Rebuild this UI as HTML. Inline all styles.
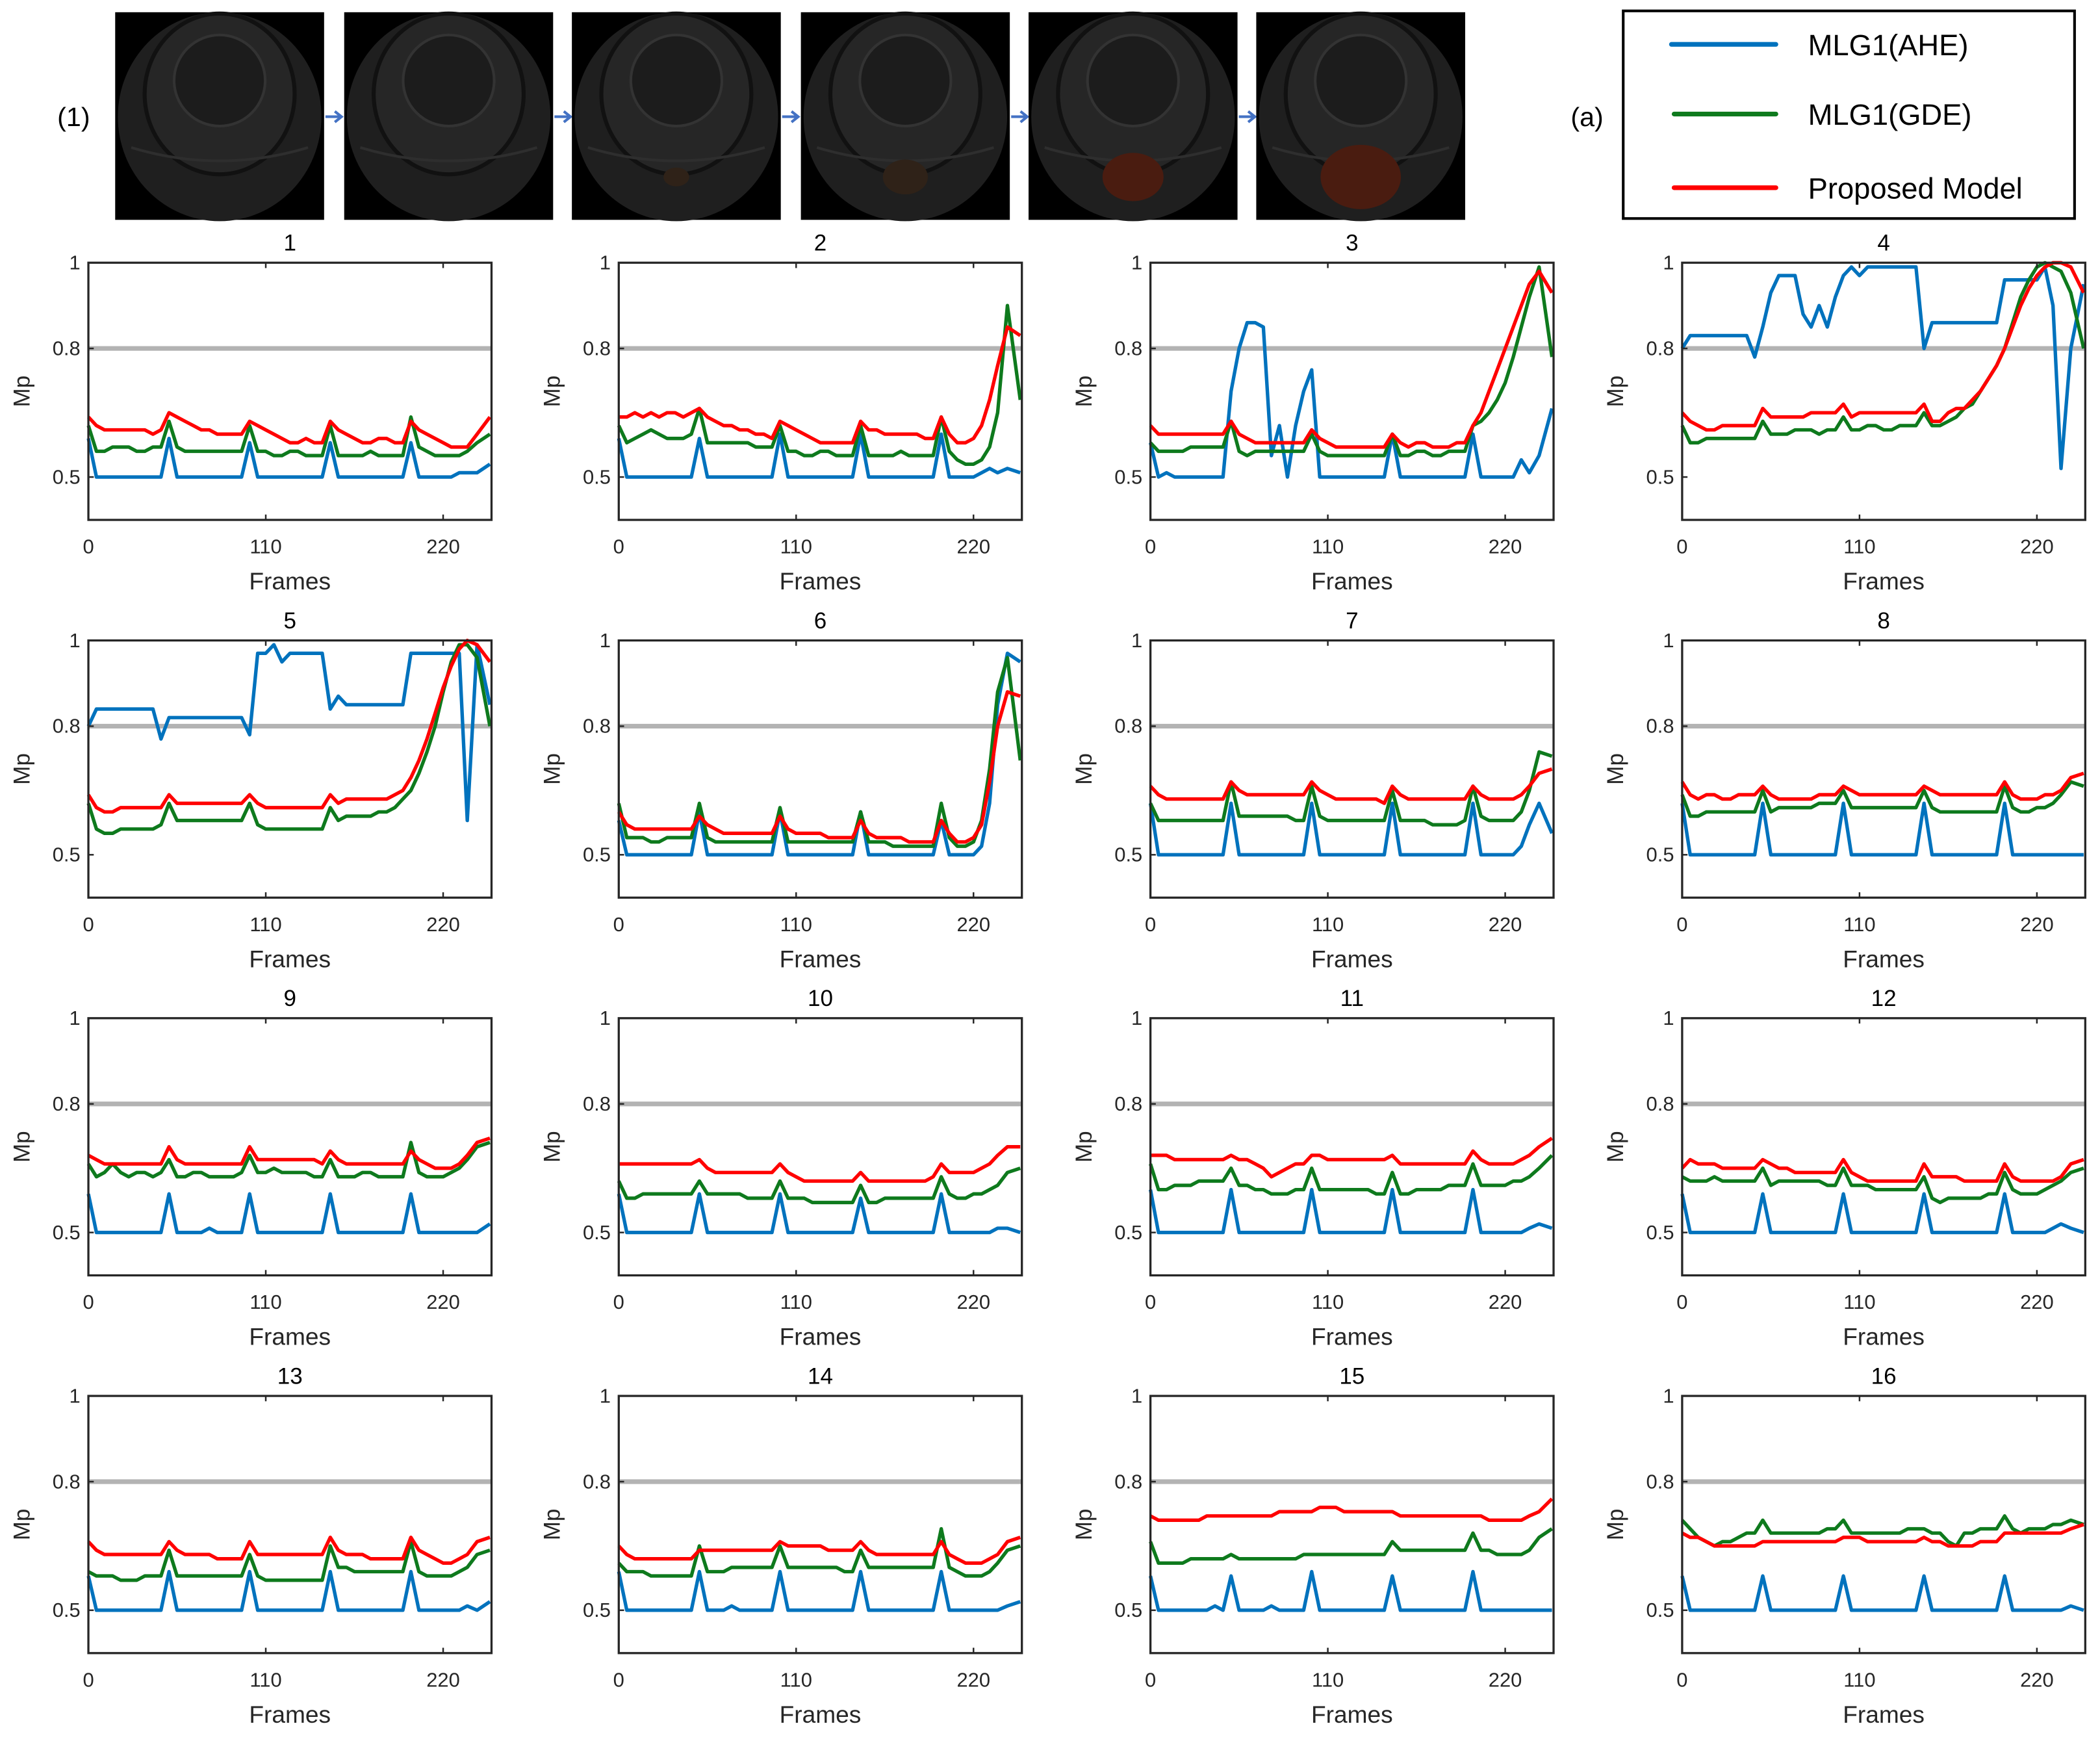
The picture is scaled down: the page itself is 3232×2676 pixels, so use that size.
<!DOCTYPE html>
<html><head><meta charset="utf-8"><style>
html,body{margin:0;padding:0;background:#fff}
svg{display:block}
text{font-family:"Liberation Sans",sans-serif}
</style></head><body>
<svg id="fig" xmlns="http://www.w3.org/2000/svg" width="3232" height="2676" viewBox="0 0 1568 1298">
<rect x="0" y="0" width="1568" height="1298" fill="#fff"/>
<g id="strip"></g>
<text x="55" y="94" font-size="20" text-anchor="middle">(1)</text>
<text x="1185" y="94" font-size="20" text-anchor="middle">(a)</text>
<g>
<rect x="1212" y="8" width="337" height="155" fill="#fff" stroke="#000" stroke-width="2"/>
<g><line x1="1248" y1="33" x2="1326" y2="33" stroke="#0072bd" stroke-width="3.5" stroke-linecap="round"/><text x="1350" y="41" font-size="22">MLG1(AHE)</text></g>
<g><line x1="1250" y1="85" x2="1326" y2="85" stroke="#0e7a1d" stroke-width="3.5" stroke-linecap="round"/><text x="1350" y="93" font-size="22">MLG1(GDE)</text></g>
<g><line x1="1250" y1="140" x2="1326" y2="140" stroke="#ff0000" stroke-width="3.5" stroke-linecap="round"/><text x="1350" y="148" font-size="22">Proposed Model</text></g>
</g>
<g id="plots"></g>
</svg>
<script>
const frames=[0,5,10,15,20,25,30,35,40,45,50,55,60,65,70,75,80,85,90,95,100,105,110,115,120,125,130,135,140,145,150,155,160,165,170,175,180,185,190,195,200,205,210,215,220,225,230,235,241,249];
const xTicks=[0,110,220];
const yTicks=[0.5,0.8,1];
const threshold=0.8;
const plotTitles=["1","2","3","4","5","6","7","8","9","10","11","12","13","14","15","16"];
const ahe1=[.59,.50,.50,.50,.50,.50,.50,.50,.50,.50,.59,.50,.50,.50,.50,.50,.50,.50,.50,.50,.58,.50,.50,.50,.50,.50,.50,.50,.50,.50,.58,.50,.50,.50,.50,.50,.50,.50,.50,.50,.58,.50,.50,.50,.50,.50,.51,.51,.51,.53];
const gde1=[.62,.56,.56,.57,.57,.57,.56,.56,.57,.57,.63,.57,.56,.56,.56,.56,.56,.56,.56,.56,.62,.56,.56,.55,.55,.56,.56,.55,.55,.55,.62,.55,.55,.55,.55,.56,.55,.55,.55,.55,.64,.57,.56,.55,.55,.55,.55,.56,.58,.60];
const prop1=[.64,.62,.61,.61,.61,.61,.61,.61,.60,.61,.65,.64,.63,.62,.61,.61,.60,.60,.60,.60,.63,.62,.61,.60,.59,.58,.58,.59,.58,.58,.63,.61,.60,.59,.58,.58,.59,.59,.58,.58,.63,.61,.60,.59,.58,.57,.57,.57,.60,.64];
const ahe2=[.59,.50,.50,.50,.50,.50,.50,.50,.50,.50,.59,.50,.50,.50,.50,.50,.50,.50,.50,.50,.60,.50,.50,.50,.50,.50,.50,.50,.50,.50,.60,.50,.50,.50,.50,.50,.50,.50,.50,.50,.60,.50,.50,.50,.50,.51,.52,.51,.52,.51];
const gde2=[.62,.58,.59,.60,.61,.60,.59,.59,.59,.60,.66,.58,.58,.58,.58,.58,.58,.57,.57,.57,.62,.56,.56,.55,.55,.56,.56,.55,.55,.55,.62,.55,.55,.55,.55,.56,.55,.55,.55,.55,.64,.56,.54,.53,.53,.54,.57,.65,.90,.68];
const prop2=[.64,.64,.65,.64,.65,.64,.65,.65,.64,.65,.66,.64,.63,.62,.62,.61,.61,.60,.60,.59,.63,.62,.61,.60,.59,.58,.58,.58,.58,.58,.63,.61,.61,.60,.60,.60,.60,.60,.59,.59,.64,.60,.58,.58,.59,.62,.68,.76,.85,.83];
const ahe3=[.58,.50,.51,.50,.50,.50,.50,.50,.50,.50,.70,.80,.86,.86,.85,.55,.62,.50,.62,.70,.75,.50,.50,.50,.50,.50,.50,.50,.50,.50,.60,.50,.50,.50,.50,.50,.50,.50,.50,.50,.60,.50,.50,.50,.50,.50,.54,.51,.55,.66];
const gde3=[.58,.56,.56,.56,.56,.57,.57,.57,.57,.57,.63,.56,.55,.56,.56,.56,.56,.56,.56,.56,.60,.56,.55,.55,.55,.55,.55,.55,.55,.55,.60,.55,.55,.56,.56,.55,.55,.56,.56,.56,.62,.63,.65,.68,.72,.78,.85,.92,.99,.78];
const prop3=[.62,.60,.60,.60,.60,.60,.60,.60,.60,.60,.63,.60,.59,.58,.58,.58,.58,.58,.58,.58,.61,.59,.58,.57,.57,.57,.57,.57,.57,.57,.60,.58,.57,.58,.58,.57,.57,.57,.58,.58,.62,.65,.70,.75,.80,.85,.90,.95,.98,.93];
const ahe4=[.80,.83,.83,.83,.83,.83,.83,.83,.83,.78,.85,.93,.97,.97,.97,.88,.85,.90,.85,.92,.97,.99,.97,.99,.99,.99,.99,.99,.99,.99,.80,.86,.86,.86,.86,.86,.86,.86,.86,.86,.96,.96,.96,.96,.96,.99,.90,.52,.80,.95];
const gde4=[.62,.58,.58,.59,.59,.59,.59,.59,.59,.59,.63,.60,.60,.60,.61,.61,.61,.60,.61,.61,.64,.61,.61,.62,.62,.61,.61,.62,.62,.62,.65,.62,.62,.63,.64,.66,.67,.70,.73,.76,.80,.86,.92,.96,.99,1.0,.99,.98,.93,.80];
const prop4=[.65,.63,.62,.61,.61,.62,.62,.62,.62,.62,.66,.64,.64,.64,.64,.64,.65,.65,.65,.65,.67,.64,.65,.65,.65,.65,.65,.65,.65,.65,.67,.63,.63,.65,.66,.66,.68,.70,.73,.76,.80,.85,.90,.94,.97,.99,1.0,1.0,.99,.93];
const ahe5=[.80,.84,.84,.84,.84,.84,.84,.84,.84,.77,.82,.82,.82,.82,.82,.82,.82,.82,.82,.82,.78,.97,.97,.99,.95,.97,.97,.97,.97,.97,.84,.87,.85,.85,.85,.85,.85,.85,.85,.85,.97,.97,.97,.97,.97,.97,.97,.58,.99,.85];
const gde5=[.62,.56,.55,.55,.56,.56,.56,.56,.56,.57,.62,.58,.58,.58,.58,.58,.58,.58,.58,.58,.62,.57,.56,.56,.56,.56,.56,.56,.56,.56,.61,.58,.59,.59,.59,.59,.60,.60,.61,.63,.65,.69,.74,.80,.88,.95,.99,.99,.96,.80];
const prop5=[.64,.61,.60,.60,.61,.61,.61,.61,.61,.61,.64,.62,.62,.62,.62,.62,.62,.62,.62,.62,.64,.62,.61,.61,.61,.61,.61,.61,.61,.61,.64,.62,.63,.63,.63,.63,.63,.63,.64,.65,.68,.72,.77,.83,.89,.94,.98,1.0,.99,.95];
const ahe6=[.58,.50,.50,.50,.50,.50,.50,.50,.50,.50,.60,.50,.50,.50,.50,.50,.50,.50,.50,.50,.60,.50,.50,.50,.50,.50,.50,.50,.50,.50,.60,.50,.50,.50,.50,.50,.50,.50,.50,.50,.58,.50,.50,.50,.50,.52,.62,.85,.97,.95];
const gde6=[.62,.54,.54,.54,.53,.53,.54,.54,.54,.54,.62,.54,.53,.53,.53,.53,.53,.53,.53,.53,.61,.53,.53,.53,.53,.53,.53,.53,.53,.53,.60,.53,.53,.53,.52,.52,.52,.52,.52,.52,.62,.54,.52,.52,.53,.58,.70,.88,.96,.72];
const prop6=[.60,.57,.56,.56,.56,.56,.56,.56,.56,.56,.59,.57,.56,.55,.55,.55,.55,.55,.55,.55,.59,.56,.55,.55,.55,.55,.54,.54,.54,.54,.58,.55,.54,.54,.54,.54,.53,.53,.53,.53,.58,.55,.53,.53,.54,.57,.67,.80,.88,.87];
const ahe7=[.62,.50,.50,.50,.50,.50,.50,.50,.50,.50,.62,.50,.50,.50,.50,.50,.50,.50,.50,.50,.62,.50,.50,.50,.50,.50,.50,.50,.50,.50,.62,.50,.50,.50,.50,.50,.50,.50,.50,.50,.62,.50,.50,.50,.50,.50,.52,.57,.62,.55];
const gde7=[.62,.58,.58,.58,.58,.58,.58,.58,.58,.58,.67,.59,.59,.59,.59,.59,.59,.59,.58,.58,.66,.59,.58,.58,.58,.58,.58,.58,.58,.58,.65,.58,.58,.58,.58,.57,.57,.57,.57,.58,.66,.59,.58,.58,.58,.58,.60,.65,.74,.73];
const prop7=[.66,.64,.63,.63,.63,.63,.63,.63,.63,.63,.67,.65,.64,.64,.64,.64,.64,.64,.64,.64,.67,.65,.64,.63,.63,.63,.63,.63,.63,.62,.66,.64,.63,.63,.63,.63,.63,.63,.63,.63,.66,.64,.63,.63,.63,.63,.64,.66,.69,.70];
const ahe8=[.62,.50,.50,.50,.50,.50,.50,.50,.50,.50,.62,.50,.50,.50,.50,.50,.50,.50,.50,.50,.62,.50,.50,.50,.50,.50,.50,.50,.50,.50,.62,.50,.50,.50,.50,.50,.50,.50,.50,.50,.62,.50,.50,.50,.50,.50,.50,.50,.50,.50];
const gde8=[.64,.59,.59,.60,.60,.60,.60,.60,.60,.60,.65,.60,.61,.61,.61,.61,.61,.62,.62,.62,.65,.61,.61,.61,.61,.61,.61,.61,.61,.61,.65,.61,.60,.60,.60,.60,.60,.60,.60,.60,.66,.61,.60,.60,.61,.61,.62,.64,.67,.66];
const prop8=[.67,.64,.63,.64,.64,.63,.63,.64,.64,.64,.66,.64,.63,.63,.63,.63,.63,.64,.64,.64,.66,.65,.64,.64,.64,.64,.64,.64,.64,.64,.66,.65,.64,.64,.64,.64,.64,.64,.64,.64,.67,.64,.63,.63,.63,.64,.64,.65,.68,.69];
const ahe9=[.59,.50,.50,.50,.50,.50,.50,.50,.50,.50,.59,.50,.50,.50,.50,.51,.50,.50,.50,.50,.59,.50,.50,.50,.50,.50,.50,.50,.50,.50,.59,.50,.50,.50,.50,.50,.50,.50,.50,.50,.59,.50,.50,.50,.50,.50,.50,.50,.50,.52];
const gde9=[.66,.63,.64,.66,.64,.63,.64,.64,.63,.64,.67,.63,.63,.64,.64,.63,.63,.63,.63,.64,.68,.64,.64,.65,.64,.64,.64,.64,.63,.63,.67,.63,.63,.63,.64,.64,.63,.63,.63,.63,.71,.64,.63,.63,.63,.64,.65,.67,.70,.71];
const prop9=[.68,.67,.66,.66,.66,.66,.66,.66,.66,.66,.70,.67,.66,.66,.66,.66,.66,.66,.66,.66,.70,.67,.67,.67,.67,.67,.67,.67,.67,.66,.69,.67,.66,.66,.66,.66,.66,.66,.66,.66,.69,.67,.66,.65,.65,.65,.66,.68,.71,.72];
const ahe10=[.59,.50,.50,.50,.50,.50,.50,.50,.50,.50,.59,.50,.50,.50,.50,.50,.50,.50,.50,.50,.59,.50,.50,.50,.50,.50,.50,.50,.50,.50,.58,.50,.50,.50,.50,.50,.50,.50,.50,.50,.59,.50,.50,.50,.50,.50,.50,.51,.51,.50];
const gde10=[.62,.58,.58,.59,.59,.59,.59,.59,.59,.59,.62,.59,.59,.59,.59,.59,.58,.58,.58,.58,.62,.58,.58,.58,.57,.57,.57,.57,.57,.57,.61,.57,.57,.58,.58,.58,.58,.58,.58,.58,.63,.59,.58,.58,.59,.59,.60,.61,.64,.65];
const prop10=[.66,.66,.66,.66,.66,.66,.66,.66,.66,.66,.67,.65,.64,.64,.64,.64,.64,.64,.64,.64,.66,.64,.63,.62,.62,.62,.62,.62,.62,.62,.64,.62,.62,.62,.62,.62,.62,.62,.62,.63,.66,.64,.64,.64,.64,.65,.66,.68,.70,.70];
const ahe11=[.60,.50,.50,.50,.50,.50,.50,.50,.50,.50,.60,.50,.50,.50,.50,.50,.50,.50,.50,.50,.60,.50,.50,.50,.50,.50,.50,.50,.50,.50,.60,.50,.50,.50,.50,.50,.50,.50,.50,.50,.60,.50,.50,.50,.50,.50,.50,.51,.52,.51];
const gde11=[.66,.60,.60,.61,.61,.61,.62,.62,.62,.62,.65,.61,.61,.60,.60,.59,.59,.59,.60,.60,.65,.60,.60,.60,.60,.60,.60,.60,.59,.59,.64,.59,.59,.60,.60,.60,.60,.61,.61,.61,.66,.61,.61,.61,.61,.62,.62,.63,.65,.68];
const prop11=[.68,.68,.68,.67,.67,.67,.67,.67,.67,.67,.68,.67,.67,.66,.65,.63,.64,.65,.66,.66,.68,.68,.67,.67,.67,.67,.67,.67,.67,.67,.68,.66,.66,.66,.66,.66,.66,.66,.66,.66,.69,.67,.66,.66,.66,.66,.67,.68,.70,.72];
const ahe12=[.59,.50,.50,.50,.50,.50,.50,.50,.50,.50,.59,.50,.50,.50,.50,.50,.50,.50,.50,.50,.59,.50,.50,.50,.50,.50,.50,.50,.50,.50,.59,.50,.50,.50,.50,.50,.50,.50,.50,.50,.59,.50,.50,.50,.50,.50,.51,.52,.51,.50];
const gde12=[.63,.62,.62,.62,.63,.62,.62,.62,.62,.62,.65,.61,.62,.62,.62,.62,.62,.62,.61,.61,.65,.61,.61,.61,.60,.60,.60,.60,.60,.60,.63,.58,.57,.58,.58,.58,.58,.58,.59,.59,.64,.60,.59,.59,.59,.60,.61,.62,.64,.65];
const prop12=[.65,.67,.66,.66,.66,.65,.65,.65,.65,.65,.67,.66,.65,.65,.64,.64,.64,.64,.64,.64,.67,.64,.63,.62,.62,.62,.62,.62,.62,.62,.66,.63,.63,.63,.63,.62,.62,.62,.62,.62,.66,.63,.62,.62,.62,.62,.62,.63,.66,.67];
const ahe13=[.58,.50,.50,.50,.50,.50,.50,.50,.50,.50,.59,.50,.50,.50,.50,.50,.50,.50,.50,.50,.59,.50,.50,.50,.50,.50,.50,.50,.50,.50,.59,.50,.50,.50,.50,.50,.50,.50,.50,.50,.59,.50,.50,.50,.50,.50,.50,.51,.50,.52];
const gde13=[.59,.58,.58,.58,.57,.57,.57,.58,.58,.58,.64,.58,.58,.58,.58,.58,.58,.58,.58,.58,.63,.58,.57,.57,.57,.57,.57,.57,.57,.57,.65,.60,.60,.59,.59,.59,.59,.59,.59,.59,.66,.59,.58,.58,.58,.58,.59,.60,.63,.64];
const prop13=[.66,.64,.63,.63,.63,.63,.63,.63,.63,.63,.66,.64,.63,.63,.63,.63,.62,.62,.62,.62,.66,.63,.63,.63,.63,.63,.63,.63,.63,.63,.67,.64,.63,.63,.63,.62,.62,.62,.62,.62,.67,.64,.63,.62,.61,.61,.62,.63,.66,.67];
const ahe14=[.59,.50,.50,.50,.50,.50,.50,.50,.50,.50,.59,.50,.50,.50,.51,.50,.50,.50,.50,.50,.59,.50,.50,.50,.50,.50,.50,.50,.50,.50,.59,.50,.50,.50,.50,.50,.50,.50,.50,.50,.59,.50,.50,.50,.50,.50,.50,.50,.51,.52];
const gde14=[.61,.59,.59,.59,.58,.58,.58,.58,.58,.58,.65,.59,.59,.59,.60,.60,.60,.60,.60,.60,.65,.60,.60,.60,.60,.60,.60,.60,.59,.59,.64,.60,.60,.60,.60,.60,.60,.60,.60,.60,.69,.60,.59,.58,.58,.58,.59,.61,.64,.65];
const prop14=[.65,.63,.62,.62,.62,.62,.62,.62,.62,.62,.64,.64,.64,.64,.64,.64,.64,.64,.64,.64,.66,.65,.65,.65,.65,.65,.64,.64,.64,.64,.66,.64,.63,.63,.63,.63,.63,.63,.63,.63,.66,.63,.62,.61,.61,.61,.62,.63,.66,.67];
const ahe15=[.58,.50,.50,.50,.50,.50,.50,.50,.51,.50,.58,.50,.50,.50,.50,.51,.50,.50,.50,.50,.59,.50,.50,.50,.50,.50,.50,.50,.50,.50,.58,.50,.50,.50,.50,.50,.50,.50,.50,.50,.59,.50,.50,.50,.50,.50,.50,.50,.50,.50];
const gde15=[.66,.61,.61,.61,.61,.62,.62,.62,.62,.62,.63,.62,.62,.62,.62,.62,.62,.62,.62,.63,.63,.63,.63,.63,.63,.63,.63,.63,.63,.63,.66,.64,.64,.64,.64,.64,.64,.64,.64,.64,.68,.64,.64,.63,.63,.63,.63,.64,.67,.69];
const prop15=[.72,.71,.71,.71,.71,.71,.71,.72,.72,.72,.72,.72,.72,.72,.72,.72,.73,.73,.73,.73,.73,.74,.74,.74,.73,.73,.73,.73,.73,.73,.73,.72,.72,.72,.72,.72,.72,.72,.72,.72,.72,.72,.71,.71,.71,.71,.71,.72,.73,.76];
const ahe16=[.58,.50,.50,.50,.50,.50,.50,.50,.50,.50,.58,.50,.50,.50,.50,.50,.50,.50,.50,.50,.58,.50,.50,.50,.50,.50,.50,.50,.50,.50,.58,.50,.50,.50,.50,.50,.50,.50,.50,.50,.58,.50,.50,.50,.50,.50,.50,.50,.51,.50];
const gde16=[.71,.69,.67,.66,.65,.66,.66,.67,.68,.68,.71,.68,.68,.68,.68,.68,.68,.68,.69,.69,.71,.68,.68,.68,.68,.68,.68,.68,.69,.69,.69,.68,.68,.66,.65,.68,.68,.69,.69,.69,.72,.69,.68,.69,.69,.69,.70,.70,.71,.70];
const prop16=[.68,.67,.67,.66,.65,.65,.65,.65,.65,.65,.66,.66,.66,.66,.66,.66,.66,.66,.66,.66,.67,.67,.67,.66,.66,.66,.66,.66,.66,.66,.67,.66,.66,.65,.65,.65,.65,.66,.66,.66,.68,.68,.68,.68,.68,.68,.68,.68,.69,.70];

const aheSeries=[ahe1,ahe2,ahe3,ahe4,ahe5,ahe6,ahe7,ahe8,ahe9,ahe10,ahe11,ahe12,ahe13,ahe14,ahe15,ahe16];
const gdeSeries=[gde1,gde2,gde3,gde4,gde5,gde6,gde7,gde8,gde9,gde10,gde11,gde12,gde13,gde14,gde15,gde16];
const propSeries=[prop1,prop2,prop3,prop4,prop5,prop6,prop7,prop8,prop9,prop10,prop11,prop12,prop13,prop14,prop15,prop16];

const NS="http://www.w3.org/2000/svg";
function mk(tag,attrs,parent){const e=document.createElementNS(NS,tag);for(const k in attrs)e.setAttribute(k,attrs[k]);parent.appendChild(e);return e;}

// image strip
const strip=document.getElementById('strip');
const frameX=[86,257,427,598,768,938];
const blobs=[0,0,0.15,0.45,0.7,1];
frameX.forEach((x,i)=>{
  const g=mk('g',{},strip);
  
  
  mk('rect',{x:x,y:9,width:156,height:155,fill:'#000'},g);
  mk('ellipse',{cx:x+78,cy:87,rx:76,ry:78,fill:'#1f1f1f'},g);
  mk('ellipse',{cx:x+78,cy:70,rx:56,ry:60,fill:'#262626',stroke:'#111','stroke-width':3},g);
  mk('ellipse',{cx:x+78,cy:60,rx:34,ry:34,fill:'#1c1c1c',stroke:'#333','stroke-width':2},g);
  mk('path',{d:`M${x+12} 110 Q${x+78} 130 ${x+144} 110`,stroke:'#2e2e2e','stroke-width':2,fill:'none'},g);
  if(blobs[i]>0){mk('ellipse',{cx:x+78,cy:132,rx:6+24*blobs[i],ry:4+20*blobs[i],fill:blobs[i]>0.6?'#4a1c10':'#2f2218'},g);}
  if(i<5){const a=mk('path',{d:`M${x+157} 87 L${x+168} 87 M${x+164} 83 L${x+169} 87 L${x+164} 91`,stroke:'#4472c4','stroke-width':2,fill:'none'},strip);
    
    }
});

// plots
const plots=document.getElementById('plots');
const colX=[66,462,859,1256], rowY=[196,478,760,1042];
const PW=301, PH=192, X0=0, X1=250, Y0=0.4, Y1=1;
plotTitles.forEach((t,p)=>{
  const ox=colX[p%4], oy=rowY[Math.floor(p/4)];
  const sx=v=>ox+(v-X0)/(X1-X0)*PW;
  const sy=v=>oy+PH-(v-Y0)/(Y1-Y0)*PH;
  const g=mk('g',{},plots);
  
  
  const tt=mk('text',{x:ox+PW/2,y:oy-9,'font-size':17,'text-anchor':'middle'},g);tt.textContent=t;
  
  
  const th=mk('line',{x1:ox,x2:ox+PW,y1:sy(threshold),y2:sy(threshold),stroke:'#b3b3b3','stroke-width':3.5},g);
  
  
  const series=[[aheSeries[p],'#0072bd','ahe-line'],[gdeSeries[p],'#0e7a1d','gde-line'],[propSeries[p],'#ff0000','proposed-line']];
  series.forEach(([vals,col,nm])=>{
    const d=vals.map((v,i)=>(i?'L':'M')+sx(frames[i]).toFixed(1)+' '+sy(v).toFixed(1)).join(' ');
    const pth=mk('path',{d:d,stroke:col,'stroke-width':2.6,fill:'none','stroke-linejoin':'round'},g);
    
    
  });
  const box=mk('rect',{x:ox,y:oy,width:PW,height:PH,fill:'none',stroke:'#262626','stroke-width':1.6},g);
  
  
  xTicks.forEach(v=>{
    mk('line',{x1:sx(v),x2:sx(v),y1:oy+PH,y2:oy+PH-4,stroke:'#262626','stroke-width':1.2},g);
    mk('line',{x1:sx(v),x2:sx(v),y1:oy,y2:oy+4,stroke:'#262626','stroke-width':1.2},g);
    const l=mk('text',{x:sx(v),y:oy+PH+25,'font-size':15,'text-anchor':'middle',fill:'#262626'},g);l.textContent=String(v);
    
    
  });
  yTicks.forEach(v=>{
    mk('line',{x1:ox,x2:ox+4,y1:sy(v),y2:sy(v),stroke:'#262626','stroke-width':1.2},g);
    const l=mk('text',{x:ox-6,y:sy(v)+5,'font-size':15,'text-anchor':'end',fill:'#262626'},g);l.textContent=String(v);
    
    
  });
  const xl=mk('text',{x:ox+PW/2,y:oy+PH+52,'font-size':18,'text-anchor':'middle',fill:'#262626'},g);xl.textContent='Frames';
  
  
  const yl=mk('text',{x:0,y:0,'font-size':17,'text-anchor':'middle',fill:'#262626',transform:`translate(${ox-44},${oy+96}) rotate(-90)`},g);yl.textContent='Mp';
  
  
});
</script>
</body></html>
